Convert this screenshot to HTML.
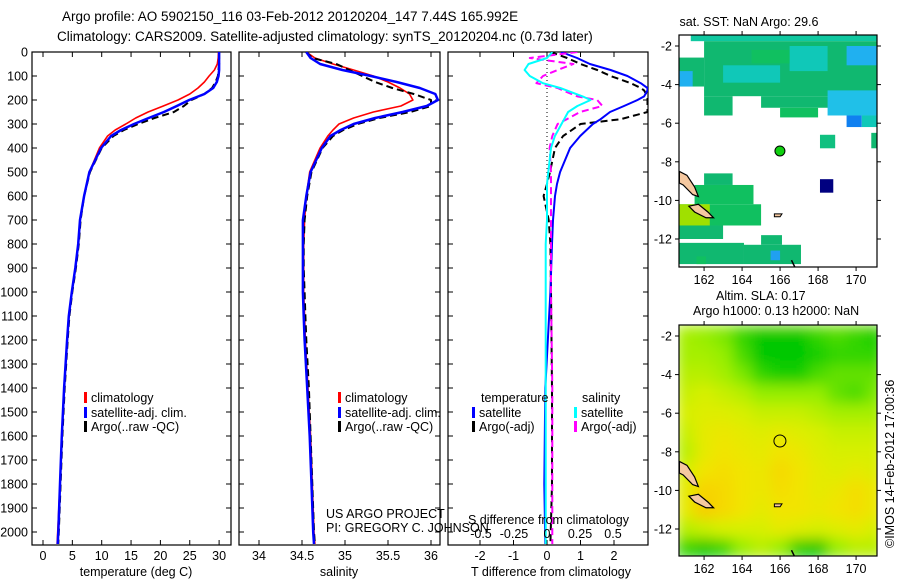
<!DOCTYPE html>
<html><head><meta charset="utf-8"><style>
body{margin:0;background:#fff;}
svg{display:block;font-family:"Liberation Sans",sans-serif;}
text{fill:#000;}
</style></head><body>
<svg id="chart" width="900" height="580" viewBox="0 0 900 580" xmlns="http://www.w3.org/2000/svg">
<defs>
<clipPath id="c1"><rect x="32" y="52" width="199" height="493"/></clipPath>
<clipPath id="c2"><rect x="239" y="52" width="201" height="493"/></clipPath>
<clipPath id="c3"><rect x="448" y="52" width="200" height="493"/></clipPath>
<clipPath id="m1"><rect x="679" y="35" width="198" height="232"/></clipPath>
<clipPath id="m2"><rect x="679" y="325" width="198" height="231"/></clipPath>
<filter id="blur" x="0" y="0" width="1" height="1"><feGaussianBlur stdDeviation="7" edgeMode="duplicate"/></filter>
</defs>
<text x="62" y="21" font-size="13.5">Argo profile: AO 5902150_116 03-Feb-2012 20120204_147 7.44S 165.992E</text>
<text x="57" y="41" font-size="13.5">Climatology: CARS2009. Satellite-adjusted climatology: synTS_20120204.nc (0.73d later)</text>
<g id="g1"></g>
<g id="g2"></g>
<g id="g3"></g>
<g id="gm1"></g>
<g id="gm2"></g>
<text transform="translate(894,548) rotate(-90)" font-size="12.5">©IMOS 14-Feb-2012 17:00:36</text>
</svg>
<script>
// ---- profile data ----
const depths = [0,25,50,75,100,125,150,175,200,225,250,275,300,325,350,400,500,600,700,800,900,1000,1100,1200,1400,1600,1800,2000,2050];
const tempClim = [29.9,29.85,29.7,29.2,28.3,27.5,26.4,25,23,20.5,17.9,15.8,14.1,12.3,11,9.6,7.9,7,6.3,6,5.5,4.9,4.4,4.1,3.6,3.2,2.9,2.5,2.4];
const tempSat  = [30,30,30,30,29.9,29.6,29,27.5,24.9,22.8,20.6,18,15.5,13.3,11.6,9.9,7.9,7,6.3,6,5.5,4.9,4.4,4.1,3.6,3.2,2.9,2.6,2.5];
const tempArgo = [30,30,30,29.9,29.8,29.4,28.8,27.5,25.3,24,22.3,19,16.2,13.8,12,10,8,7,6.4,6.1,5.6,5,4.5,4.2,3.7,3.3,3.0,2.7,2.6];
const salClim = [34.55,34.65,34.86,35.1,35.33,35.5,35.64,35.75,35.79,35.65,35.33,35.1,34.93,34.86,34.8,34.71,34.59,34.55,34.53,34.52,34.52,34.52,34.53,34.54,34.57,34.6,34.62,34.64,34.65];
const salSat  = [34.55,34.6,34.71,34.97,35.3,35.6,35.87,36.05,36.08,35.95,35.67,35.35,35.1,34.95,34.83,34.73,34.6,34.55,34.51,34.51,34.51,34.51,34.52,34.53,34.56,34.59,34.61,34.63,34.64];
const salArgo = [34.55,34.62,34.9,35.05,35.2,35.35,35.55,35.8,36.0,36.0,35.76,35.4,35.15,34.98,34.86,34.74,34.61,34.56,34.53,34.52,34.52,34.53,34.54,34.55,34.58,34.6,34.62,34.64,34.65];
const dDepths = [0,25,50,75,100,130,150,160,185,200,225,250,280,300,350,400,500,550,600,700,800,1000,1400,1800,2050];
const dTsat  = [0.42,0.9,1.28,1.9,2.4,2.8,3.0,3.0,2.9,2.7,2.3,1.88,1.6,1.37,0.99,0.69,0.39,0.3,0.24,0.18,0.15,0.1,-0.05,-0.08,-0.05];
const dTargo = [0.1,0.6,1.0,1.5,1.9,2.5,2.8,2.9,3.0,3.0,3.0,3.0,2.2,1.0,0.48,0.24,0.09,0,-0.1,0.05,0.1,0.12,0.15,0.15,0.1];
const dSsat  = [0.04,0,-0.14,-0.17,-0.13,-0.03,0.1,0.15,0.27,0.33,0.23,0.16,0.13,0.11,0.06,0.03,0.01,0,0,0,-0.01,-0.01,-0.01,-0.01,-0.01];
const dSargo = [0.23,-0.13,0.2,0.08,-0.03,-0.08,0.08,0.12,0.23,0.38,0.42,0.25,0.15,0.08,0.04,0.02,0.03,0.03,0.03,0.03,0.03,0.03,0.04,0.04,0.04];
const depthTicks = [0,100,200,300,400,500,600,700,800,900,1000,1100,1200,1300,1400,1500,1600,1700,1800,1900,2000];
const tempTicks = [0,5,10,15,20,25,30];
const salTicks = [34,34.5,35,35.5,36];
const salTickLabels = ['34','34.5','35','35.5','36'];
const dTTicks = [-2,-1,0,1,2];
const dSTicks = [-0.5,-0.25,0,0.25,0.5];
const lonTicks = [162,164,166,168,170];
const latTicks = [-2,-4,-6,-8,-10,-12];
// SST map patches [lon0,lon1,lat0,lat1,color]
const sstPatches = [
[161.3,171.1,-1.43,-1.75,'#10c8a0'],[162,171.1,-1.75,-4.6,'#10b870'],[160.7,162,-2.6,-4.1,'#10b870'],
[160.7,161.4,-3.3,-4.1,'#20b0f0'],[163,166,-3.0,-3.9,'#10c8b8'],[166.5,168.5,-2.0,-3.3,'#10c8b8'],
[169.5,171.1,-2.0,-3.0,'#20b0f0'],[164.5,166.5,-2.2,-2.9,'#10c060'],[162,163.5,-4.6,-5.6,'#10b870'],
[165,171.1,-4.6,-5.2,'#10b870'],[166,168,-5.2,-5.7,'#10c060'],[168.5,171.1,-4.3,-5.6,'#20c0e8'],
[169.5,170.3,-5.6,-6.2,'#1080f0'],[170.3,171.1,-5.6,-6.2,'#10c8b8'],[168.1,168.9,-6.6,-7.3,'#10c080'],
[170.8,171.1,-6.5,-7.3,'#10b870'],[168.1,168.8,-8.9,-9.6,'#000080'],[162,163.5,-8.6,-9.2,'#10b870'],
[161.5,164.6,-9.2,-10.2,'#10c060'],[160.7,165,-10.2,-11.3,'#10c060'],[160.7,162.3,-10.2,-11.3,'#a0e000'],
[160.7,163,-11.3,-12,'#10b870'],[160.7,164.1,-12.2,-13.3,'#10b870'],[164.1,167.1,-12.3,-13.3,'#10b870'],
[165,166.1,-11.8,-12.3,'#10b870'],[165.5,166,-12.6,-13.1,'#20a0f0'],[161.6,162.1,-12.9,-13.3,'#10c060']];
// SLA grid: rows lat -2..-13, cols lon 161..171
const slaLats = [-2,-3,-4,-5,-6,-7,-8,-9,-10,-11,-12,-13];
const slaLons = [161,162,163,164,165,166,167,168,169,170,171];
const slaGrid = [
[.35,.3,.25,.1,0,0,0,.1,.15,.1,.05],
[.35,.35,.3,.15,0,0,0,.05,.1,.1,.1],
[.4,.4,.35,.25,.1,.05,.05,.15,.2,.2,.2],
[.45,.5,.45,.4,.3,.3,.3,.3,.2,.15,.25],
[.5,.55,.55,.5,.45,.45,.45,.4,.35,.35,.35],
[.45,.6,.65,.6,.55,.6,.55,.5,.45,.45,.45],
[.4,.6,.7,.65,.6,.7,.65,.55,.5,.5,.5],
[.5,.7,.75,.7,.65,.8,.7,.6,.55,.6,.55],
[.6,.85,.8,.7,.65,.75,.7,.6,.65,.75,.65],
[.6,.9,.8,.7,.6,.7,.7,.65,.7,.75,.65],
[.4,.45,.5,.5,.5,.6,.55,.5,.55,.6,.5],
[.1,0,.1,.3,.4,.3,.05,0,.3,.4,.4]];

const NS='http://www.w3.org/2000/svg';
function mk(parent,tag,attrs){const e=document.createElementNS(NS,tag);for(const k in attrs)e.setAttribute(k,attrs[k]);parent.appendChild(e);return e;}
const yD = d => 52 + d*0.24;
const xT = t => 43 + t*5.87;
const xS = s => 345 + (s-35)*86;
const xDT = t => 547 + t*33.5;
const xDS = s => 547 + s*132;

function line(g,ds,vals,xf,color,w,dash,clip,name){
  const d = vals.map((v,i)=>(i?'L':'M')+xf(v).toFixed(1)+' '+yD(ds[i]).toFixed(1)).join('');
  const p = mk(g,'path',{d:d,fill:'none',stroke:color,'stroke-width':w,'clip-path':'url(#'+clip+')','stroke-linejoin':'round'});
  if(dash)p.setAttribute('stroke-dasharray',dash);
  
  
}
function frame(g,x,w,ticksX,xf,labels,clip,ylabels){
  const r=mk(g,'rect',{x:x,y:52,width:w,height:493,fill:'none',stroke:'#000','stroke-width':1.2});
  
  
  ticksX.forEach((t,i)=>{const X=xf(t);
    mk(g,'line',{x1:X,y1:52,x2:X,y2:57,stroke:'#000'});
    mk(g,'line',{x1:X,y1:545,x2:X,y2:540,stroke:'#000'});
    if(labels){const tx=mk(g,'text',{x:X,y:560,'font-size':12.5,'text-anchor':'middle'});tx.textContent=labels[i];
      
      }
  });
  depthTicks.forEach(d=>{const Y=yD(d);
    mk(g,'line',{x1:x,y1:Y,x2:x+5,y2:Y,stroke:'#000'});
    mk(g,'line',{x1:x+w,y1:Y,x2:x+w-5,y2:Y,stroke:'#000'});
    if(ylabels){const tx=mk(g,'text',{x:28,y:Y+4.5,'font-size':12.5,'text-anchor':'end'});tx.textContent=d;
      
      }
  });
}
function txt(g,x,y,s,name,size,anchor){const t=mk(g,'text',{x:x,y:y,'font-size':size||12.5});if(anchor)t.setAttribute('text-anchor',anchor);t.textContent=s;
  
  return t;}
function legend(g,x,y,color,label){mk(g,'rect',{x:x,y:y-10,width:3,height:11,fill:color});txt(g,x+7,y,label,'legend-entry');}

// Panel 1
const g1=document.getElementById('g1');
frame(g1,32,199,tempTicks,xT,tempTicks.map(String),'c1',true);
line(g1,depths,tempClim,xT,'#f00',1.6,null,'c1','temp-climatology-line');
line(g1,depths,tempArgo,xT,'#000',2,'7,4','c1','temp-argo-line');
line(g1,depths,tempSat,xT,'#00f',2.5,null,'c1','temp-satellite-line');
legend(g1,84,402,'#f00','climatology');legend(g1,84,417,'#00f','satellite-adj. clim.');legend(g1,84,431,'#000','Argo(..raw -QC)');
txt(g1,136,576,'temperature (deg C)','x-axis-title',12.5,'middle');

// Panel 2
const g2=document.getElementById('g2');
frame(g2,239,201,salTicks,xS,salTickLabels,'c2',false);
line(g2,depths,salClim,xS,'#f00',1.6,null,'c2','sal-climatology-line');
line(g2,depths,salArgo,xS,'#000',2,'7,4','c2','sal-argo-line');
line(g2,depths,salSat,xS,'#00f',2.5,null,'c2','sal-satellite-line');
legend(g2,338,402,'#f00','climatology');legend(g2,338,417,'#00f','satellite-adj. clim.');legend(g2,338,431,'#000','Argo(..raw -QC)');
txt(g2,326,518,'US ARGO PROJECT','credit-project');txt(g2,326,532,'PI: GREGORY C. JOHNSON','credit-pi');
txt(g2,339,576,'salinity','x-axis-title',12.5,'middle');

// Panel 3
const g3=document.getElementById('g3');
frame(g3,448,200,dTTicks,xDT,dTTicks.map(String),'c3',false);
mk(g3,'line',{x1:547,y1:52,x2:547,y2:200,stroke:'#000','stroke-dasharray':'1,3'});
line(g3,dDepths,dTargo,xDT,'#000',2,'7,4','c3','tdiff-argo-line');
line(g3,dDepths,dTsat,xDT,'#00f',2,null,'c3','tdiff-satellite-line');
line(g3,dDepths,dSargo,xDS,'#f0f',2,'7,4','c3','sdiff-argo-line');
line(g3,dDepths,dSsat,xDS,'#0ff',2,null,'c3','sdiff-satellite-line');
txt(g3,481,402,'temperature','legend-title');txt(g3,582,402,'salinity','legend-title');
legend(g3,472,417,'#00f','satellite');legend(g3,472,431,'#000','Argo(-adj)');
legend(g3,574,417,'#0ff','satellite');legend(g3,574,431,'#f0f','Argo(-adj)');
txt(g3,468,524,'S difference from climatology','s-axis-title');
dSTicks.forEach(s=>{txt(g3,xDS(s),538,String(s),'s-tick-label',12.5,'middle');});
txt(g3,551,576,'T difference from climatology','x-axis-title',12.5,'middle');

// Maps
const lx = lon => 679 + (lon-160.68)*19;
function mapAxes(g,top,bot,latY,lbl){
  const r=mk(g,'rect',{x:679,y:top,width:198,height:bot-top,fill:'none',stroke:'#000','stroke-width':1.2});
  
  
  lonTicks.forEach(l=>{const X=lx(l);mk(g,'line',{x1:X,y1:top,x2:X,y2:top-4,stroke:'#000'});mk(g,'line',{x1:X,y1:bot,x2:X,y2:bot+4,stroke:'#000'});
    if(lbl)txt(g,X,bot+17,String(l),'lon-tick-label',12.5,'middle');});
  latTicks.forEach(l=>{const Y=latY(l);mk(g,'line',{x1:679,y1:Y,x2:675,y2:Y,stroke:'#000'});mk(g,'line',{x1:877,y1:Y,x2:881,y2:Y,stroke:'#000'});
    txt(g,672,Y+4.5,String(l),'lat-tick-label',12.5,'end');});
}
function islands(g,latY){
  mk(g,'path',{d:`M${lx(160.7)} ${latY(-8.5)} L${lx(161.1)} ${latY(-8.7)} L${lx(161.5)} ${latY(-9.3)} L${lx(161.7)} ${latY(-9.8)} L${lx(161.4)} ${latY(-9.7)} L${lx(160.9)} ${latY(-9.2)} L${lx(160.7)} ${latY(-9.1)}Z`,fill:'#f5c8a0',stroke:'#000','stroke-width':1.2});
  mk(g,'path',{d:`M${lx(161.2)} ${latY(-10.3)} L${lx(161.7)} ${latY(-10.2)} L${lx(162.2)} ${latY(-10.6)} L${lx(162.5)} ${latY(-10.9)} L${lx(162.1)} ${latY(-10.9)} L${lx(161.5)} ${latY(-10.6)}Z`,fill:'#f5c8a0',stroke:'#000','stroke-width':1.2});
  mk(g,'path',{d:`M${lx(165.7)} ${latY(-10.7)} L${lx(166.1)} ${latY(-10.7)} L${lx(166.0)} ${latY(-10.85)} L${lx(165.7)} ${latY(-10.85)}Z`,fill:'#f5c8a0',stroke:'#000'});
  mk(g,'line',{x1:lx(166.6),y1:latY(-13.1),x2:lx(166.8),y2:latY(-13.5),stroke:'#000','stroke-width':1.5});
}
// SST map
const gm1=document.getElementById('gm1');
const ly1 = lat => 35 + (-1.43-lat)*19.3;
txt(gm1,749,26,'sat. SST: NaN Argo: 29.6','sst-map-title',12.5,'middle');
const mg1=mk(gm1,'g',{'clip-path':'url(#m1)'});
sstPatches.forEach(p=>{const r=mk(mg1,'rect',{x:lx(p[0]),y:ly1(p[2]),width:lx(p[1])-lx(p[0]),height:ly1(p[3])-ly1(p[2]),fill:p[4]});
  
  });
islands(mg1,ly1);
const c1=mk(gm1,'circle',{cx:lx(165.992),cy:ly1(-7.44),r:5,fill:'#10d010',stroke:'#000'});


mapAxes(gm1,35,267,ly1,true);
// SLA map
const gm2=document.getElementById('gm2');
const ly2 = lat => 325 + (-1.43-lat)*19.3;
txt(gm2,716,300,'Altim. SLA: 0.17','sla-map-title');
txt(gm2,693,315,'Argo h1000: 0.13 h2000: NaN','sla-map-subtitle');
function slaColor(v){
  const stops=[[0,[0,200,0]],[0.3,[150,238,0]],[0.5,[215,240,0]],[0.7,[242,228,0]],[0.9,[248,205,0]]];
  for(let i=1;i<stops.length;i++){if(v<=stops[i][0]){const a=stops[i-1],b=stops[i];const f=(v-a[0])/(b[0]-a[0]);
    return 'rgb('+a[1].map((c,k)=>Math.round(c+(b[1][k]-c)*f)).join(',')+')';}}
  return 'rgb(248,205,0)';
}
const mg2=mk(gm2,'g',{'clip-path':'url(#m2)'});
const bl=mk(mg2,'g',{filter:'url(#blur)'});
mk(bl,'rect',{x:679,y:325,width:198,height:231,fill:'#d0f000'});
slaGrid.forEach((row,i)=>row.forEach((v,j)=>{
  const r=mk(bl,'rect',{x:lx(slaLons[j]-0.5),y:ly2(slaLats[i]+0.5),width:19.5,height:19.8,fill:slaColor(v)});
  
  
}));
islands(mg2,ly2);
const c2=mk(gm2,'circle',{cx:lx(165.992),cy:ly2(-7.44),r:6,fill:'none',stroke:'#000'});


mapAxes(gm2,325,556,ly2,true);
</script>
</body></html>
